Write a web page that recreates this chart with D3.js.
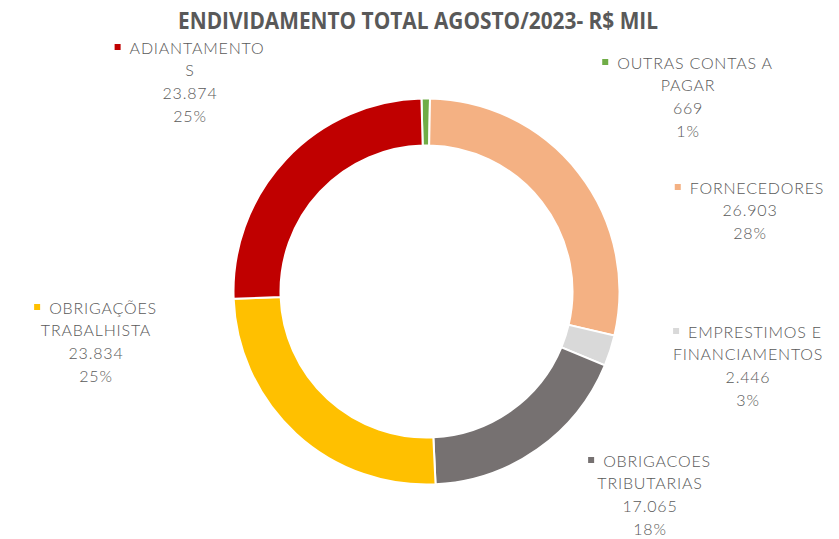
<!DOCTYPE html>
<html>
<head>
<meta charset="utf-8">
<script src="https://cdn.jsdelivr.net/npm/d3@7"></script>
<style>
	body{margin:0;background:#fff;}
	text{font-family:'Lato','DejaVu Sans',sans-serif;}
</style>
</head>
<body>
<div id="chart"></div>
<script>
//data, clockwise from the top
let categories = ['OUTRAS CONTAS A PAGAR', 'FORNECEDORES', 'EMPRESTIMOS E FINANCIAMENTOS', 'OBRIGACOES TRIBUTARIAS', 'OBRIGAÇÕES TRABALHISTA', 'ADIANTAMENTOS'],
label_lines = [['OUTRAS CONTAS A', 'PAGAR'], ['FORNECEDORES'], ['EMPRESTIMOS E', 'FINANCIAMENTOS'], ['OBRIGACOES', 'TRIBUTARIAS'], ['OBRIGAÇÕES', 'TRABALHISTA'], ['ADIANTAMENTO', 'S']],
values = [669, 26903, 2446, 17065, 23834, 23874],
colors = ['#70AD47', '#F4B183', '#D9D9D9', '#767171', '#FFC000', '#C00000'];

let title = 'ENDIVIDAMENTO TOTAL AGOSTO/2023- R$ MIL';

//label anchors: centre x, centre y of the first line
let label_pos = [[688, 62], [750, 187], [748, 331], [650, 460], [96, 307], [190, 47]];

let width = 839, height = 539,
cx = 426.5, cy = 291.5,
outer = 193, inner = 146,
line_h = 22.8;

let svg = d3.select('#chart').append('svg').attr('width', width).attr('height', height);

let br = d3.formatLocale({decimal:',', thousands:'.', grouping:[3], currency:['R$', '']}),
fmtVal = br.format(',d'),
fmtPct = d3.format('.0%'),
total = d3.sum(values);

//title
svg.append('text')
.attr('x', 418)
.attr('y', 29)
.attr('text-anchor', 'middle')
.attr('textLength', 480)
.attr('lengthAdjust', 'spacingAndGlyphs')
.style('font-family', "'Liberation Sans Narrow','Open Sans',sans-serif")
.style('font-weight', 'bold')
.style('font-size', '23px')
.style('fill', '#595959')
.text(title);

//donut
let rot = -1.5 * Math.PI / 180;
let pie = d3.pie().sort(null).value(d=>d).startAngle(rot).endAngle(2 * Math.PI + rot);
let arc = d3.arc().innerRadius(inner).outerRadius(outer);

svg.append('g').attr('transform', 'translate(' + cx + ',' + cy + ')')
.selectAll('path')
.data(pie(values))
.enter()
.append('path')
.attr('d', arc)
.style('fill', (d, i)=>colors[i])
.style('stroke', '#fff')
.style('stroke-width', 2);

//labels
label_pos.forEach((p, i)=>{
	let g = svg.append('g'),
	lines = label_lines[i].concat([fmtVal(values[i]), fmtPct(values[i] / total)]);
	
	lines.forEach((t, j)=>{
		let txt = g.append('text')
		.attr('x', p[0])
		.attr('y', p[1] + j * line_h)
		.attr('text-anchor', 'middle')
		.attr('dominant-baseline', 'central')
		.style('font-size', '16px')
		.style('font-weight', 300)
		.style('letter-spacing', '0.8px')
		.style('fill', '#595959')
		.text(t);
		
		//marker in front of the first line
		if(j == 0){
			let w = txt.node().getComputedTextLength();
			txt.attr('x', p[0] + 7);
			g.append('rect')
			.attr('x', p[0] + 7 - w / 2 - 15)
			.attr('y', p[1] - 3)
			.attr('width', 6)
			.attr('height', 6)
			.style('fill', colors[i]);
		}
	});
});
</script>
</body>
</html>
